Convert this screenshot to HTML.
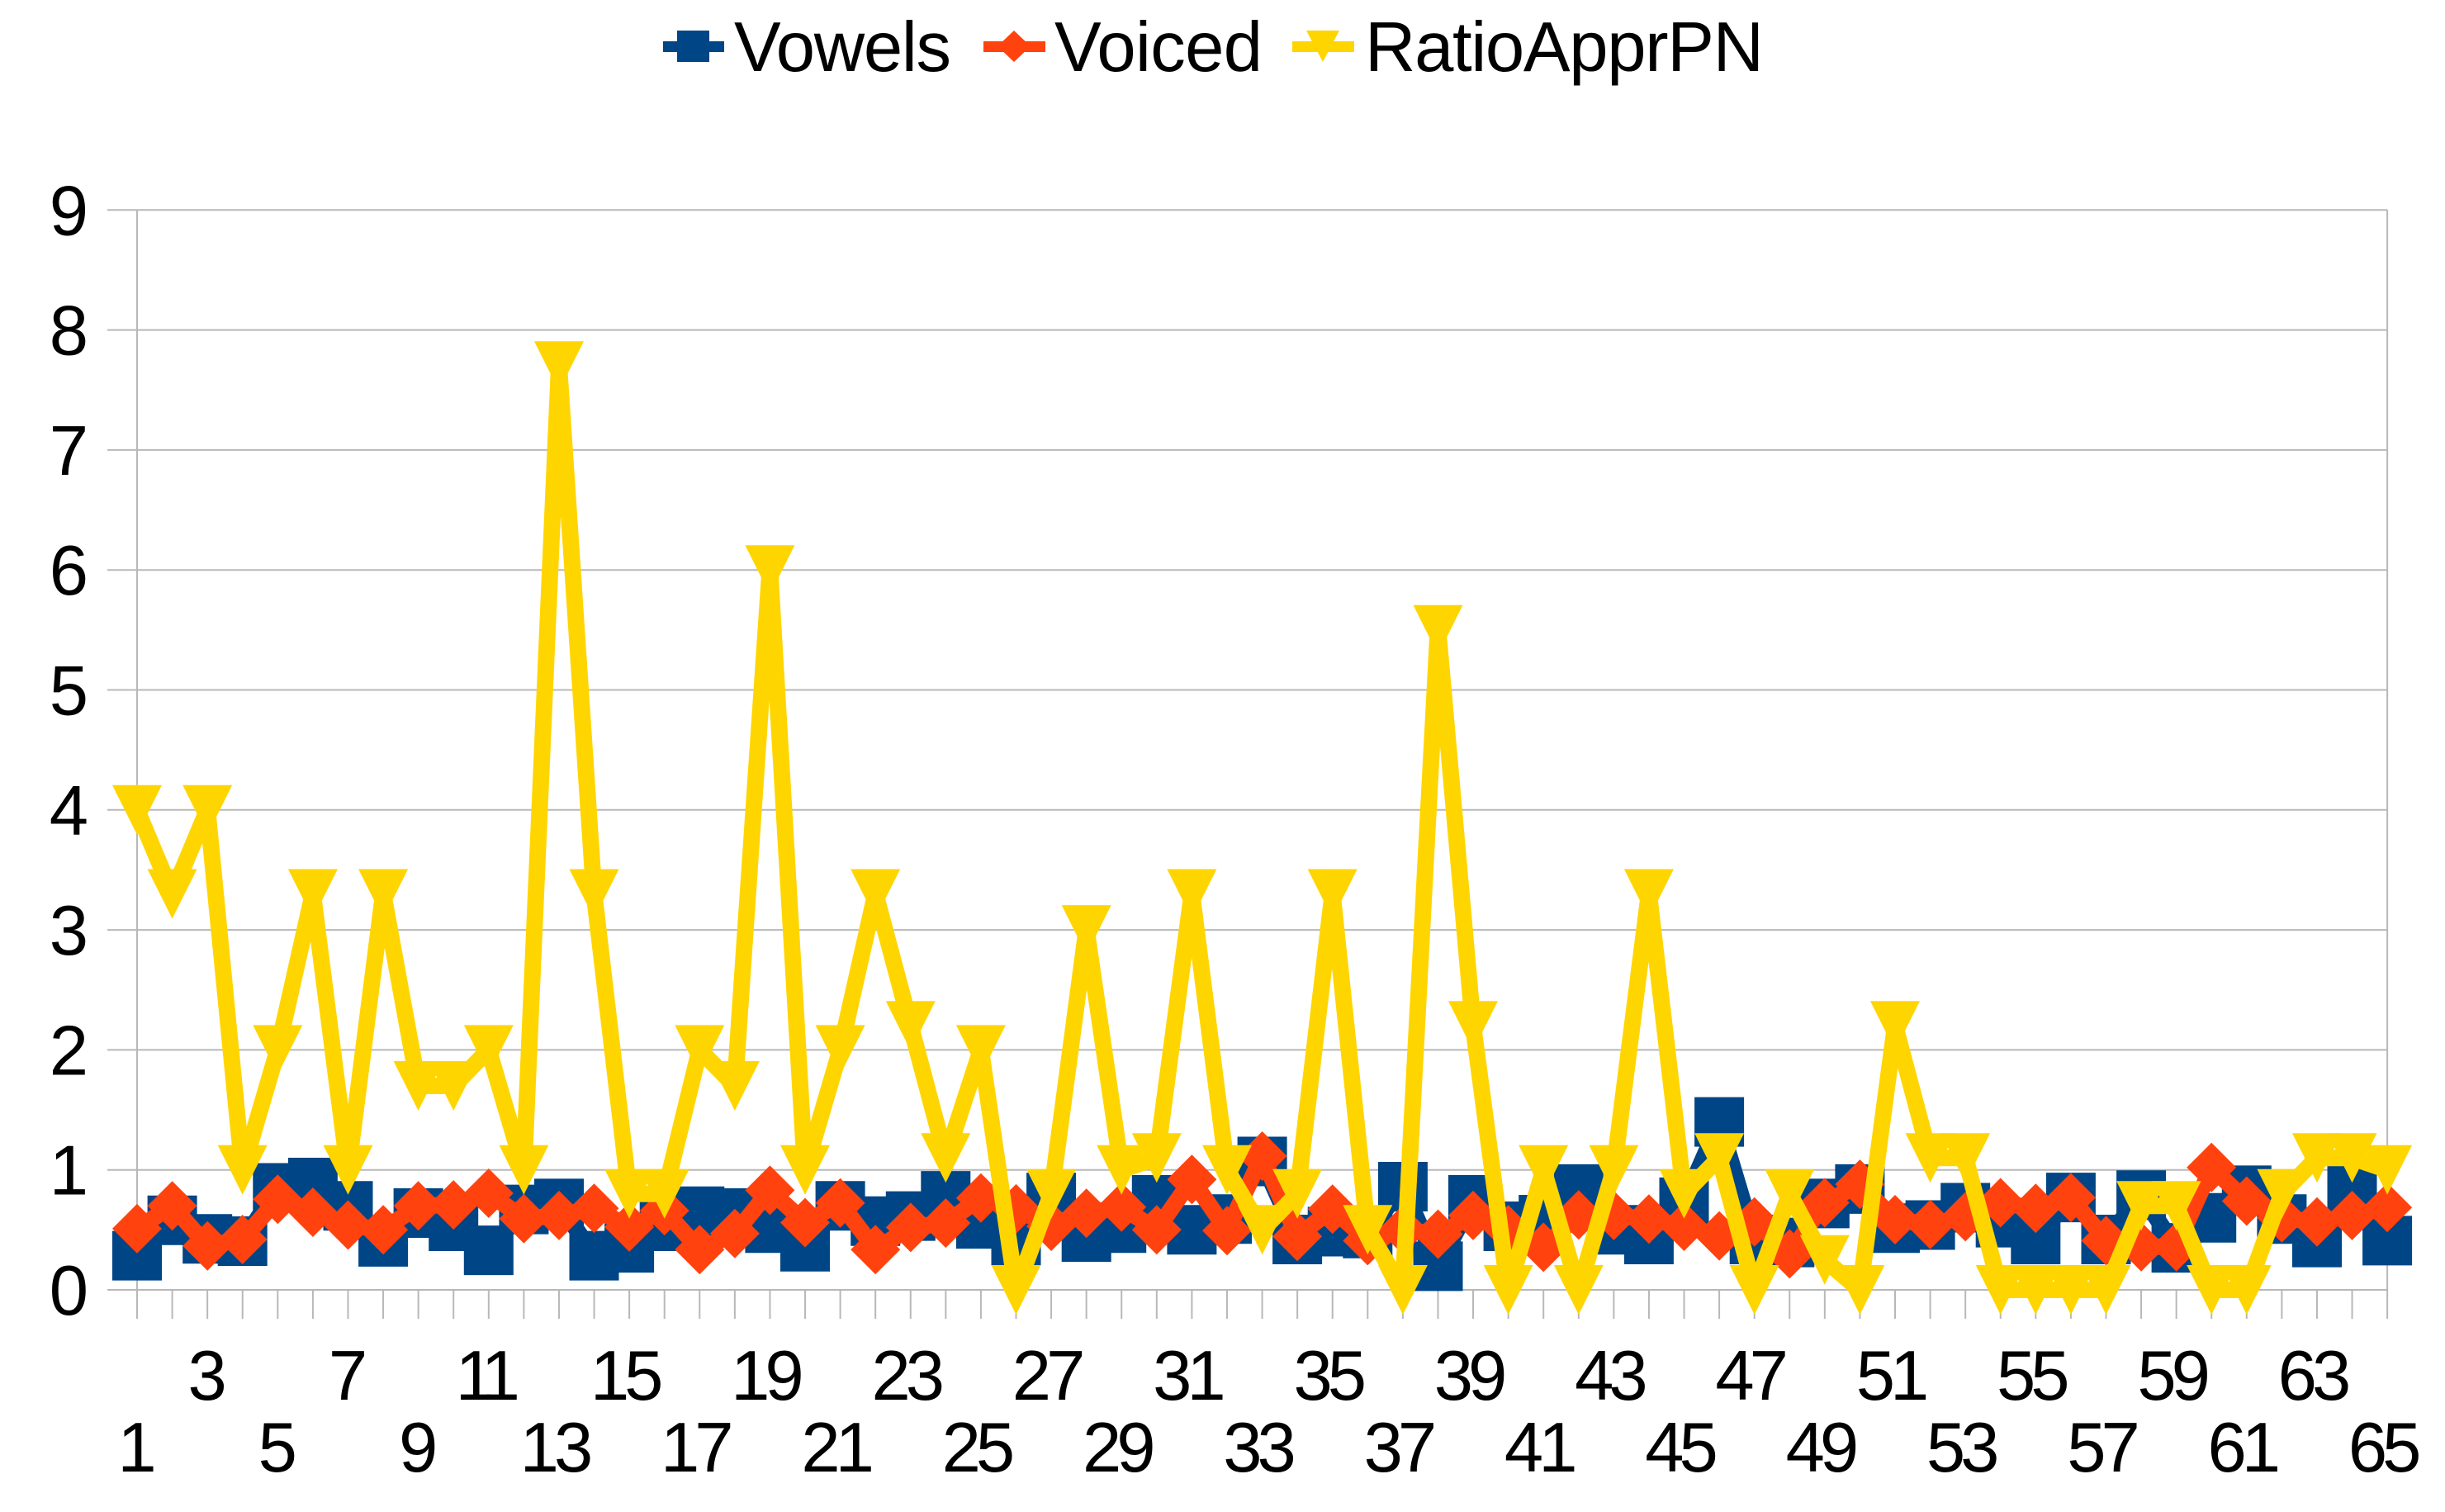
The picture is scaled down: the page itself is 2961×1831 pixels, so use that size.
<!DOCTYPE html>
<html>
<head>
<meta charset="utf-8">
<style>
html,body{margin:0;padding:0;background:#fff;}
svg{display:block;}
text{font-family:"Liberation Sans",sans-serif;fill:#000;}
</style>
</head>
<body>
<svg id="chart" xmlns="http://www.w3.org/2000/svg" width="2961" height="1831" viewBox="0 0 2961 1831">
  <rect width="2961" height="1831" fill="#fff"/>
  <g id="grid"></g>
  <g id="series"></g>
  <g id="axes"></g>
  <g>
    <g>
      <rect x="803" y="50" width="74" height="13" fill="#004586"/>
      <rect x="820" y="37" width="39" height="38" fill="#004586"/>
      <text x="889" y="86" font-size="85" textLength="263">Vowels</text>
    </g>
    <g>
      <rect x="1191" y="50" width="75" height="13" fill="#ff420e"/>
      <polygon points="1228,37 1248,56 1228,75 1208,56" fill="#ff420e"/>
      <text x="1277" y="86" font-size="85" textLength="252">Voiced</text>
    </g>
    <g>
      <rect x="1565" y="50" width="75" height="13" fill="#ffd500"/>
      <polygon points="1582,37 1622,37 1602,75" fill="#ffd500"/>
      <text x="1653" y="86" font-size="85" textLength="483">RatioApprPN</text>
    </g>
  </g>
</svg>
<script>
var yTicks = [0,1,2,3,4,5,6,7,8,9];
var categories = [1,2,3,4,5,6,7,8,9,10,11,12,13,14,15,16,17,18,19,20,21,22,23,24,25,26,27,28,29,30,31,32,33,34,35,36,37,38,39,40,41,42,43,44,45,46,47,48,49,50,51,52,53,54,55,56,57,58,59,60,61,62,63,64,65];
var vowels = [0.285,0.58,0.425,0.406,0.85,0.895,0.70,0.40,0.64,0.53,0.33,0.67,0.72,0.285,0.35,0.53,0.655,0.64,0.515,0.36,0.70,0.573,0.615,0.784,0.55,0.41,0.77,0.44,0.515,0.75,0.50,0.59,1.07,0.42,0.485,0.47,0.86,0.197,0.75,0.53,0.585,0.84,0.50,0.42,0.73,1.40,0.42,0.395,0.72,0.84,0.515,0.54,0.685,0.56,0.42,0.77,0.42,0.79,0.35,0.60,0.83,0.59,0.395,0.83,0.41];
var voiced = [0.51,0.70,0.367,0.42,0.756,0.647,0.54,0.50,0.70,0.708,0.805,0.594,0.62,0.68,0.524,0.66,0.336,0.47,0.83,0.56,0.724,0.336,0.52,0.557,0.766,0.675,0.53,0.638,0.69,0.50,0.92,0.494,1.115,0.445,0.673,0.41,0.50,0.464,0.62,0.50,0.355,0.625,0.62,0.59,0.53,0.45,0.566,0.30,0.726,0.88,0.585,0.545,0.61,0.726,0.68,0.768,0.41,0.36,0.36,1.02,0.74,0.60,0.566,0.62,0.687];
var ratio = [4,3.3,4,1,2,3.3,1,3.3,1.7,1.7,2,1,7.7,3.3,0.8,0.8,2,1.7,6,1,2,3.3,2.2,1.1,2,0,0.8,3,1,1.1,3.3,1,0.5,0.8,3.3,0.5,0,5.5,2.2,0,1,0,1,3.3,0.8,1.1,0,0.8,0.25,0,2.2,1.1,1.1,0,0,0,0,0.7,0.7,0,0,0.8,1.1,1.1,1];

var NS = 'http://www.w3.org/2000/svg';
var X0 = 166, XSTEP = 42.58, Y0 = 1562, YUNIT = 145.3;
function xAt(i){ return X0 + XSTEP * i; }
function yAt(v){ return Y0 - YUNIT * v; }
function make(tag, parent, attrs){
  var el = document.createElementNS(NS, tag);
  for (var k in attrs) el.setAttribute(k, attrs[k]);
  parent.appendChild(el);
  return el;
}
var grid = document.getElementById('grid');
var axes = document.getElementById('axes');
var seriesRoot = document.getElementById('series');
var xEnd = xAt(categories.length - 1);

yTicks.forEach(function(t){
  var line = make('line', grid, {x1:130, x2:xEnd, y1:yAt(t), y2:yAt(t), stroke:'#b8b8b8', 'stroke-width':2});
  
  
  var label = make('text', axes, {x:107, y:yAt(t)+30, 'font-size':85, 'text-anchor':'end'});
  label.textContent = t;
  
  
});
categories.forEach(function(c, i){
  var isEnd = (i === 0 || i === categories.length - 1);
  var tick = make('line', grid, {x1:xAt(i), x2:xAt(i), y1:isEnd ? yAt(9) : yAt(0), y2:1597, stroke:'#b8b8b8', 'stroke-width':2});
  
  
  if (i % 2 === 0) {
    var upper = (i % 4 === 2);
    var wide = c >= 10;
    var label = make('text', axes, {x:xAt(i) - (wide ? 6 : 0), y:upper ? 1695 : 1782, 'font-size':85, 'text-anchor':'middle'});
    if (wide) label.setAttribute('letter-spacing', c === 11 ? '-10' : '-6');
    label.textContent = c;
    
    
  }
});

function drawSeries(name, values, color, width, shape){
  var g = make('g', seriesRoot, {});
  
  
  var pts = values.map(function(v, i){ return xAt(i).toFixed(1) + ',' + yAt(v).toFixed(1); }).join(' ');
  var line = make('polyline', g, {points:pts, fill:'none', stroke:color, 'stroke-width':width, 'stroke-linejoin':'miter', 'stroke-miterlimit':1});
  
  
  values.forEach(function(v, i){
    var x = xAt(i), y = yAt(v), r = 30, p;
    if (shape === 'square') p = [[x-r,y-r],[x+r,y-r],[x+r,y+r],[x-r,y+r]];
    if (shape === 'diamond') p = [[x,y-r],[x+r,y],[x,y+r],[x-r,y]];
    if (shape === 'triangle') p = [[x-r,y-r],[x+r,y-r],[x,y+r]];
    var m = make('polygon', g, {points:p.map(function(a){ return a[0].toFixed(1) + ',' + a[1].toFixed(1); }).join(' '), fill:color});
    
    
  });
}
drawSeries('vowels', vowels, '#004586', 20, 'square');
drawSeries('voiced', voiced, '#ff420e', 20, 'diamond');
drawSeries('ratioapprpn', ratio, '#ffd500', 20, 'triangle');
</script>
</body>
</html>
